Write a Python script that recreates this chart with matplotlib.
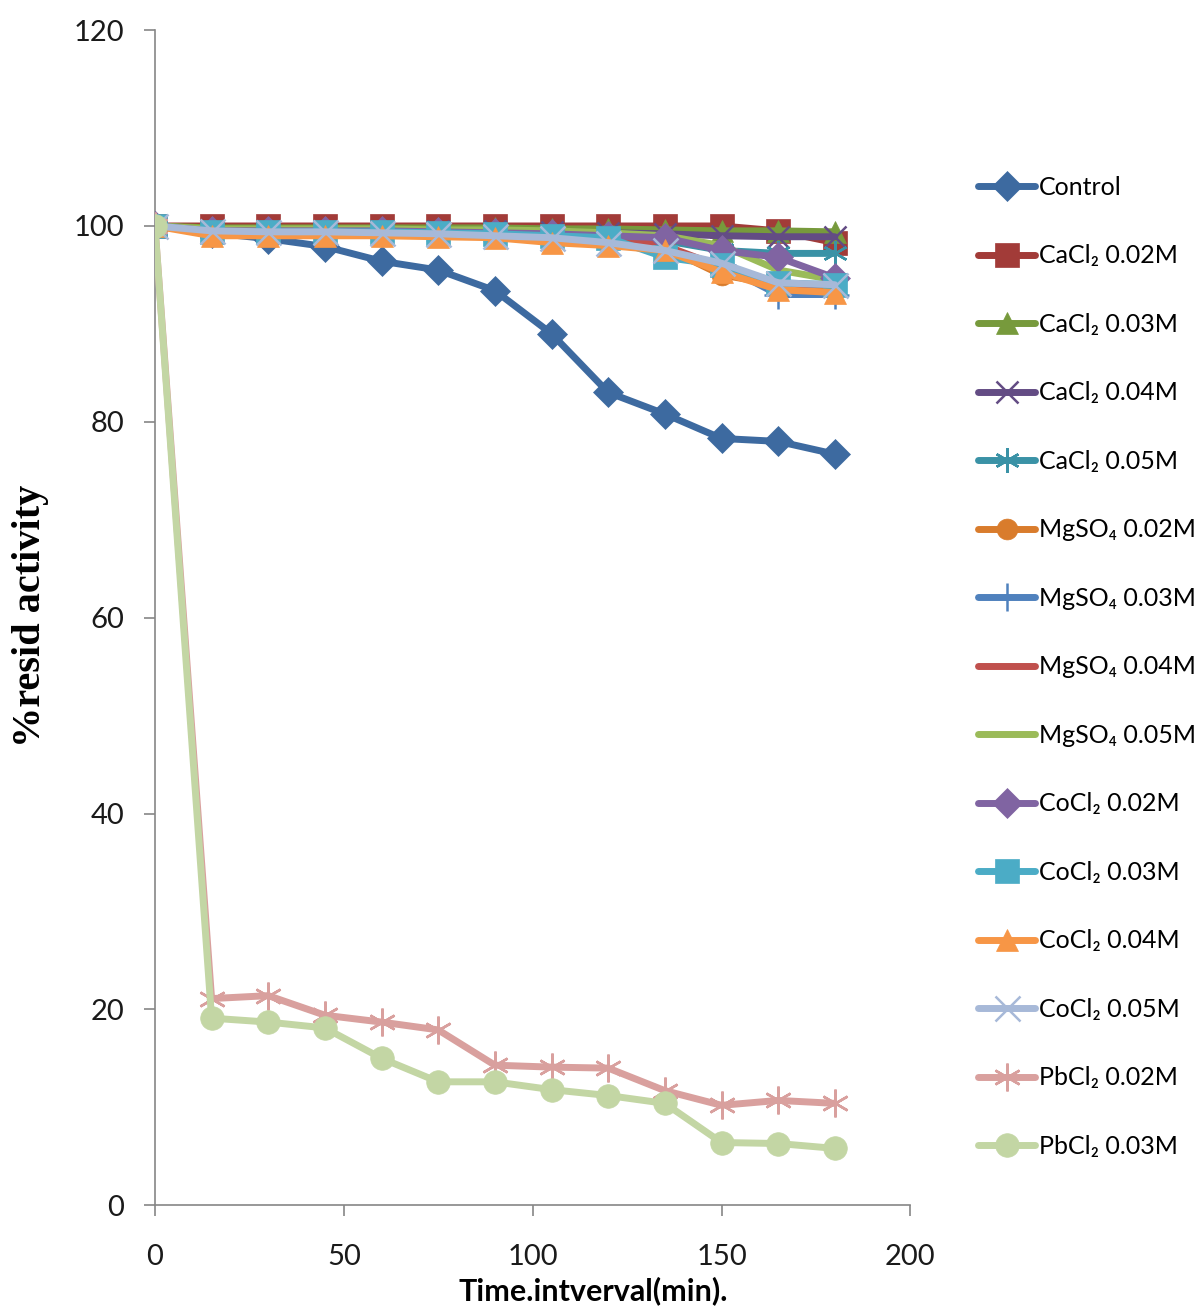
import matplotlib
matplotlib.use("Agg")
import matplotlib.pyplot as plt
from matplotlib import font_manager

# time points (min)
time = [0, 15, 30, 45, 60, 75, 90, 105, 120, 135, 150, 165, 180]

control   = [100, 99.3, 98.7, 97.9, 96.4, 95.5, 93.4, 89.0, 83.0, 80.8, 78.3, 78.0, 76.7]
cacl2_002 = [100, 100, 100, 100, 100, 100, 100, 100, 100, 100, 100, 99.5, 98.3]
cacl2_003 = [100, 99.8, 99.8, 99.8, 99.8, 99.8, 99.8, 99.7, 99.7, 99.6, 99.5, 99.5, 99.4]
cacl2_004 = [100, 99.5, 99.5, 99.5, 99.5, 99.5, 99.5, 99.4, 99.3, 99.2, 99.0, 98.9, 98.9]
cacl2_005 = [100, 99.6, 99.6, 99.6, 99.6, 99.5, 99.5, 99.3, 99.0, 98.5, 97.5, 97.2, 97.2]
mgso4_002 = [100, 99.3, 99.3, 99.3, 99.3, 99.2, 99.0, 98.8, 98.5, 97.8, 95.0, 94.0, 93.5]
mgso4_003 = [100, 99.5, 99.5, 99.5, 99.4, 99.3, 99.2, 99.0, 98.5, 97.5, 96.0, 93.0, 93.0]
mgso4_004 = [100, 99.6, 99.6, 99.6, 99.5, 99.4, 99.3, 99.0, 98.7, 98.0, 95.8, 94.0, 94.0]
mgso4_005 = [100, 99.7, 99.7, 99.7, 99.7, 99.6, 99.6, 99.5, 99.3, 99.0, 98.0, 95.5, 94.5]
cocl2_002 = [100, 99.5, 99.5, 99.5, 99.5, 99.4, 99.3, 99.2, 99.0, 98.8, 97.5, 96.8, 94.7]
cocl2_003 = [100, 99.4, 99.4, 99.4, 99.4, 99.3, 99.2, 99.0, 98.8, 96.8, 96.0, 94.2, 94.0]
cocl2_004 = [100, 99.0, 99.0, 99.0, 99.0, 98.9, 98.8, 98.3, 98.0, 97.5, 95.3, 93.5, 93.2]
cocl2_005 = [100, 99.5, 99.4, 99.4, 99.3, 99.2, 99.0, 98.8, 98.3, 97.5, 96.2, 94.2, 94.0]
pbcl2_002 = [100, 21.1, 21.4, 19.4, 18.7, 17.9, 14.3, 14.1, 14.0, 11.7, 10.2, 10.7, 10.4]
pbcl2_003 = [100, 19.1, 18.7, 18.1, 15.0, 12.6, 12.6, 11.8, 11.2, 10.4, 6.4, 6.3, 5.8]

labels = ["Control",
          "CaCl\u2082 0.02M", "CaCl\u2082 0.03M", "CaCl\u2082 0.04M", "CaCl\u2082 0.05M",
          "MgSO\u2084 0.02M", "MgSO\u2084 0.03M", "MgSO\u2084 0.04M", "MgSO\u2084 0.05M",
          "CoCl\u2082 0.02M", "CoCl\u2082 0.03M", "CoCl\u2082 0.04M", "CoCl\u2082 0.05M",
          "PbCl\u2082 0.02M", "PbCl\u2082 0.03M"]
series = [control, cacl2_002, cacl2_003, cacl2_004, cacl2_005,
          mgso4_002, mgso4_003, mgso4_004, mgso4_005,
          cocl2_002, cocl2_003, cocl2_004, cocl2_005,
          pbcl2_002, pbcl2_003]

colors = ["#3D6AA0", "#A23B38", "#779A3C", "#634C84", "#3A92A6",
          "#D97C2C", "#4F81BD", "#C0504D", "#9BBB59",
          "#8064A2", "#4BACC6", "#F79646", "#A7B9D8",
          "#D9A09E", "#C3D6A4"]
markers = ["D", "s", "^", "x", (6, 2, 0),
           "o", "+", None, None,
           "D", "s", "^", "x",
           (6, 2, 0), "o"]
msizes = [15, 17, 16, 16, 18, 15, 20, 0, 0, 15, 17, 16, 18, 20, 17]

# narrow font if there is one, else Lato
avail = {f.name for f in font_manager.fontManager.ttflist}
sans = [f for f in ["Liberation Sans Narrow", "DejaVu Sans Condensed", "Lato", "DejaVu Sans"] if f in avail]
plt.rcParams['font.family'] = sans

fig = plt.figure(figsize=(12.01, 13.10), dpi=100)
ax = fig.add_axes([0.129, 0.080, 0.629, 0.897])

for i, (y, lab) in enumerate(zip(series, labels)):
    m = markers[i]
    thin = m in ("x", "+") or isinstance(m, tuple)
    ax.plot(time, y, color=colors[i], lw=5, marker=m, markersize=msizes[i],
            markeredgewidth=1.8 if thin else 0.5, markeredgecolor=colors[i],
            markerfacecolor=colors[i], label=lab, zorder=2 + i,
            solid_capstyle='round', solid_joinstyle='round')

ax.set_xlim(0, 200)
ax.set_ylim(0, 120)
ax.set_xticks([0, 50, 100, 150, 200])
ax.set_yticks([0, 20, 40, 60, 80, 100, 120])
for s in ["top", "right"]:
    ax.spines[s].set_visible(False)
for s in ["left", "bottom"]:
    ax.spines[s].set_color("#868686")
    ax.spines[s].set_linewidth(1.2)
ax.tick_params(axis='both', colors="#868686", labelcolor="#1a1a1a", labelsize=21,
               length=8, width=1.2, direction='out')
ax.tick_params(axis='x', pad=20)
ax.tick_params(axis='y', pad=14)

fig.text(0.025, 0.53, "%resid activity", family=["Liberation Serif", "DejaVu Serif"],
         fontweight='bold', fontsize=29, rotation=90, ha='center', va='center')
fig.text(0.494, 0.004, "Time.intverval(min).", fontsize=22, fontweight='bold',
         ha='center', va='bottom')

leg = ax.legend(loc='upper left', bbox_to_anchor=(1.090, 0.876), frameon=False,
                fontsize=18, handlelength=2.28, handletextpad=0.15,
                labelspacing=1.82, borderaxespad=0, borderpad=0)

fig.savefig("out.png", dpi=100)
